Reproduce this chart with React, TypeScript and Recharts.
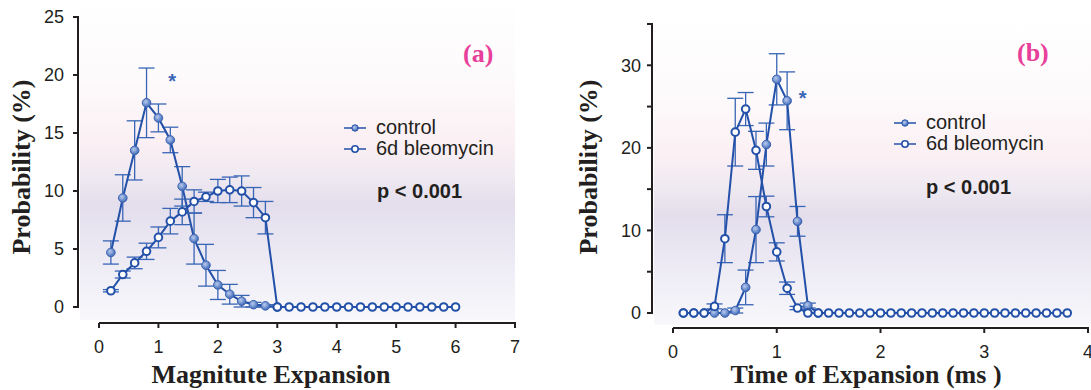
import { LineChart, Line, XAxis, YAxis, ErrorBar, ReferenceDot, Legend } from 'recharts'

// panel (a): magnitude of expansion
const magCtrlX = [0.2, 0.4, 0.6, 0.8, 1.0, 1.2, 1.4, 1.6, 1.8, 2.0, 2.2, 2.4, 2.6, 2.8, 3.0]
const magCtrl = [4.7, 9.4, 13.5, 17.6, 16.3, 14.4, 10.4, 5.9, 3.6, 1.9, 1.1, 0.5, 0.2, 0.1, 0]
const magCtrlErr = [1.0, 2.0, 2.55, 3.0, 1.2, 1.1, 1.7, 2.2, 1.8, 1.25, 0.85, 0.5, 0.2, 0.1, 0]

const magBleoX = [0.2, 0.4, 0.6, 0.8, 1.0, 1.2, 1.4, 1.6, 1.8, 2.0, 2.2, 2.4, 2.6, 2.8, 3.0, 3.2, 3.4, 3.6, 3.8, 4.0, 4.2, 4.4, 4.6, 4.8, 5.0, 5.2, 5.4, 5.6, 5.8, 6.0]
const magBleo = [1.4, 2.8, 3.8, 4.8, 6.0, 7.4, 8.2, 9.1, 9.5, 10.0, 10.1, 10.0, 9.0, 7.7, 0, 0, 0, 0, 0, 0, 0, 0, 0, 0, 0, 0, 0, 0, 0, 0]
const magBleoErr = [0.1, 0.3, 0.5, 0.7, 0.9, 1.1, 1.1, 1.0, 0.4, 1.0, 1.1, 1.3, 1.3, 1.4, 0, 0, 0, 0, 0, 0, 0, 0, 0, 0, 0, 0, 0, 0, 0, 0]

const magTicks = [0, 1, 2, 3, 4, 5, 6, 7]
const probTicksA = [0, 5, 10, 15, 20, 25]

// panel (b): time of expansion
const timeCtrlX = [0.1, 0.2, 0.3, 0.4, 0.5, 0.6, 0.7, 0.8, 0.9, 1.0, 1.1, 1.2, 1.3, 1.4]
const timeCtrl = [0, 0, 0, 0, 0, 0.3, 3.1, 10.1, 20.4, 28.3, 25.7, 11.1, 0.9, 0]
const timeCtrlErr = [0, 0, 0, 0, 0, 0.3, 2.1, 4.0, 2.6, 3.1, 3.5, 1.8, 0.3, 0]

const timeBleoX = [0.1, 0.2, 0.3, 0.4, 0.5, 0.6, 0.7, 0.8, 0.9, 1.0, 1.1, 1.2, 1.3, 1.4, 1.5, 1.6, 1.7, 1.8, 1.9, 2.0, 2.1, 2.2, 2.3, 2.4, 2.5, 2.6, 2.7, 2.8, 2.9, 3.0, 3.1, 3.2, 3.3, 3.4, 3.5, 3.6, 3.7, 3.8]
const timeBleo = [0, 0, 0, 0.8, 9.0, 21.9, 24.7, 19.7, 12.9, 7.4, 3.0, 0.6, 0, 0, 0, 0, 0, 0, 0, 0, 0, 0, 0, 0, 0, 0, 0, 0, 0, 0, 0, 0, 0, 0, 0, 0, 0, 0]
const timeBleoErr = [0, 0, 0, 0.3, 2.9, 4.1, 2.0, 2.3, 1.25, 1.1, 0.75, 0.2, 0, 0, 0, 0, 0, 0, 0, 0, 0, 0, 0, 0, 0, 0, 0, 0, 0, 0, 0, 0, 0, 0, 0, 0, 0, 0]

const timeTicks = [0, 1, 2, 3, 4]
const probTicksB = [0, 5, 10, 15, 20, 25, 30, 35]

const seriesOrder = ['control', '6d bleomycin']

// significance marks
const starA = { x: 1.23, y: 19.5 }
const starB = { x: 1.25, y: 26.0 }

const toRows = (xs: number[], ys: number[], es: number[]) => xs.map((x, i) => ({ x, y: ys[i], err: es[i] }))

const INK = '#231f20'
const LINE = '#2350a8'
const BAR = '#3865b5'
const PINK = '#e8409a'
const tickFont = { fontFamily: 'Liberation Sans, Arial, sans-serif', fontSize: 18, fill: INK }
const titleFont = { fontFamily: 'Liberation Serif, Times New Roman, serif', fontWeight: 700, fontSize: 26, color: INK, lineHeight: '26px', whiteSpace: 'nowrap' as const }
const ctrlDot = { r: 4.3, fill: 'url(#ctrlFill)', stroke: '#3a62b0', strokeWidth: 1 }
const bleoDot = { r: 3.8, fill: '#fff', stroke: LINE, strokeWidth: 2 }
const bgGradient = 'linear-gradient(to bottom, #ffffff 0%, #fdfafb 25%, #fbf0f4 44%, #efe9f1 55%, #e4deec 64%, #ebe8f3 78%, #f8f8fb 100%)'
const tickStroke = { stroke: INK, strokeWidth: 2 }

function LegendBox({ payload }: any) {
  const items = [...(payload || [])].sort((a: any, b: any) => seriesOrder.indexOf(a.value) - seriesOrder.indexOf(b.value))
  return (
    <div style={{ fontFamily: 'Liberation Sans, Arial, sans-serif', fontSize: 20, color: INK, lineHeight: '21px' }}>
      {items.map((entry: any) => {
        const filled = entry.value === 'control'
        return (
          <div key={entry.value} style={{ display: 'flex', alignItems: 'center', height: 21, whiteSpace: 'nowrap' }}>
            <svg width={22} height={12} style={{ marginRight: 10 }}>
              <line x1={0} y1={6} x2={22} y2={6} stroke={LINE} strokeWidth={1.5} />
              <circle cx={11} cy={6} r={3.2} fill={filled ? 'url(#ctrlFill)' : '#fff'} stroke={LINE} strokeWidth={filled ? 1 : 1.6} />
            </svg>
            <span>{entry.value}</span>
          </div>
        )
      })}
    </div>
  )
}

const Abs = ({ left, top, children, style }: any) => (
  <div style={{ position: 'absolute', left, top, ...style }}>{children}</div>
)

// detached axis frame lines (the axes meet with a gap at the corner)
const Rule = ({ left, top, width, height }: any) => (
  <div style={{ position: 'absolute', left, top, width, height, background: INK }} />
)

export default function App() {
  const magCtrlData = toRows(magCtrlX, magCtrl, magCtrlErr)
  const magBleoData = toRows(magBleoX, magBleo, magBleoErr)
  const timeCtrlData = toRows(timeCtrlX, timeCtrl, timeCtrlErr)
  const timeBleoData = toRows(timeBleoX, timeBleo, timeBleoErr)

  return (
    <div style={{ position: 'absolute', left: 0, top: 0, width: 1091, height: 390, background: '#fff', overflow: 'hidden' }}>
      <svg width={0} height={0} style={{ position: 'absolute' }}>
        <defs>
          <radialGradient id="ctrlFill" cx="40%" cy="38%" r="65%">
            <stop offset="0%" stopColor="#b8cbee" />
            <stop offset="100%" stopColor="#3c66b6" />
          </radialGradient>
        </defs>
      </svg>

      {/* plot backgrounds */}
      <Abs left={80} top={0} style={{ width: 435, height: 320, background: bgGradient }} />
      <Abs left={654} top={20} style={{ width: 437, height: 305, background: bgGradient }} />

      <Rule left={77} top={16} width={2} height={292} />
      <Rule left={99} top={322} width={417} height={2} />
      <Rule left={651} top={23} width={2} height={291} />
      <Rule left={673} top={327} width={416} height={2} />

      {/* panel (a) */}
      <Abs left={0} top={0}>
        <LineChart width={545} height={390} margin={{ top: 17, right: 30, bottom: 27, left: 18 }}>
          <XAxis type="number" dataKey="x" domain={[0, 7]} ticks={magTicks} interval={0} padding={{ left: 21, right: 0 }}
            axisLine={false} tickLine={tickStroke} tickSize={5} tickMargin={12} tick={tickFont} height={40} />
          <YAxis type="number" domain={[0, 25]} ticks={probTicksA} interval={0} padding={{ top: 0, bottom: 16 }}
            axisLine={false} tickLine={tickStroke} tickSize={5} tickMargin={9} tick={tickFont} width={60} />
          <Line name="control" data={magCtrlData} dataKey="y" stroke={LINE} strokeWidth={2} dot={ctrlDot} activeDot={false} isAnimationActive={false}>
            <ErrorBar dataKey="err" width={8} stroke={BAR} strokeWidth={1.3} />
          </Line>
          <Line name="6d bleomycin" data={magBleoData} dataKey="y" stroke={LINE} strokeWidth={2} dot={bleoDot} activeDot={false} isAnimationActive={false}>
            <ErrorBar dataKey="err" width={8} stroke={BAR} strokeWidth={1.3} />
          </Line>
          <ReferenceDot x={starA.x} y={starA.y} r={0} ifOverflow="visible"
            label={{ value: '*', position: 'center', fill: BAR, fontSize: 20, fontWeight: 700, fontFamily: 'Liberation Sans, Arial, sans-serif' }} />
          <Legend layout="horizontal" verticalAlign="middle" align="center" content={<LegendBox />}
            wrapperStyle={{ left: 344, top: 117, width: 'auto', height: 'auto' }} />
        </LineChart>
      </Abs>

      {/* panel (b) */}
      <Abs left={545} top={0}>
        <LineChart width={546} height={390} margin={{ top: 24, right: 3, bottom: 22, left: 47 }}>
          <XAxis type="number" dataKey="x" domain={[0, 4]} ticks={timeTicks} interval={0} padding={{ left: 21, right: 0 }}
            axisLine={false} tickLine={tickStroke} tickSize={5} tickMargin={12} tick={tickFont} height={40} />
          <YAxis type="number" domain={[0, 35]} ticks={probTicksB} interval={0} padding={{ top: 0, bottom: 15 }}
            tickFormatter={(v: number) => (v % 10 === 0 ? String(v) : '')}
            axisLine={false} tickLine={tickStroke} tickSize={5} tickMargin={6} tick={tickFont} width={60} />
          <Line name="control" data={timeCtrlData} dataKey="y" stroke={LINE} strokeWidth={2} dot={ctrlDot} activeDot={false} isAnimationActive={false}>
            <ErrorBar dataKey="err" width={8} stroke={BAR} strokeWidth={1.3} />
          </Line>
          <Line name="6d bleomycin" data={timeBleoData} dataKey="y" stroke={LINE} strokeWidth={2} dot={bleoDot} activeDot={false} isAnimationActive={false}>
            <ErrorBar dataKey="err" width={8} stroke={BAR} strokeWidth={1.3} />
          </Line>
          <ReferenceDot x={starB.x} y={starB.y} r={0} ifOverflow="visible"
            label={{ value: '*', position: 'center', fill: BAR, fontSize: 20, fontWeight: 700, fontFamily: 'Liberation Sans, Arial, sans-serif' }} />
          <Legend layout="horizontal" verticalAlign="middle" align="center" content={<LegendBox />}
            wrapperStyle={{ left: 349, top: 112, width: 'auto', height: 'auto' }} />
        </LineChart>
      </Abs>

      {/* annotations and axis titles */}
      <Abs left={463} top={41} style={{ ...titleFont, color: PINK }}>(a)</Abs>
      <Abs left={1017} top={40} style={{ ...titleFont, color: PINK }}>(b)</Abs>
      <Abs left={377} top={181} style={{ fontFamily: 'Liberation Sans, Arial, sans-serif', fontWeight: 700, fontSize: 20, lineHeight: '20px', color: INK, whiteSpace: 'nowrap' }}>p &lt; 0.001</Abs>
      <Abs left={926} top={177} style={{ fontFamily: 'Liberation Sans, Arial, sans-serif', fontWeight: 700, fontSize: 20, lineHeight: '20px', color: INK, whiteSpace: 'nowrap' }}>p &lt; 0.001</Abs>

      <Abs left={271} top={362} style={{ ...titleFont, transform: 'translateX(-50%)' }}>Magnitute Expansion</Abs>
      <Abs left={866} top={362} style={{ ...titleFont, transform: 'translateX(-50%)' }}>Time of Expansion (ms )</Abs>
      <Abs left={22} top={167} style={{ ...titleFont, transform: 'translate(-50%, -50%) rotate(-90deg)' }}>Probability (%)</Abs>
      <Abs left={589} top={167} style={{ ...titleFont, transform: 'translate(-50%, -50%) rotate(-90deg)' }}>Probability (%)</Abs>
    </div>
  )
}
